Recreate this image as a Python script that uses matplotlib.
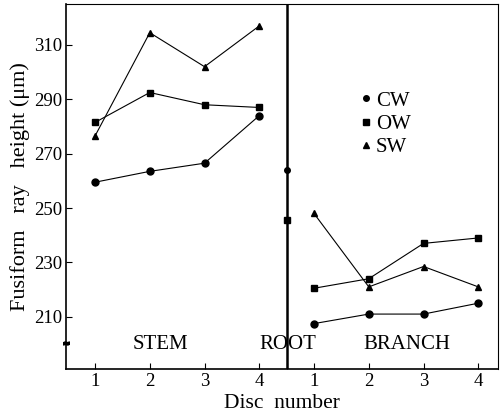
import matplotlib.pyplot as plt
from matplotlib.lines import Line2D

plt.rcParams['font.family'] = ['Liberation Serif', 'DejaVu Serif']

# disc positions: stem 1-4, root line at 4.5, branch 1-4 drawn at 5-8
stem_x = [1, 2, 3, 4]
branch_x = [5, 6, 7, 8]
root_x = 4.5
tick_labels = ['1', '2', '3', '4', '1', '2', '3', '4']

stem_cw = [259.5, 263.5, 266.5, 284]
stem_ow = [281.5, 292.5, 288, 287]
stem_sw = [276.5, 314.5, 302, 317]

branch_cw = [207.5, 211, 211, 215]
branch_ow = [220.5, 224, 237, 239]
branch_sw = [248, 221, 228.5, 221]

root_vals = [264, 245.5]

fig = plt.figure(figsize=(5, 4.16), dpi=100)
ax = fig.add_axes([0.132, 0.113, 0.864, 0.877])

ms = 5
for xs, ys, m in [(stem_x, stem_cw, 'o'), (stem_x, stem_ow, 's'), (stem_x, stem_sw, '^'),
                  (branch_x, branch_cw, 'o'), (branch_x, branch_ow, 's'), (branch_x, branch_sw, '^')]:
    ax.plot(xs, ys, color='black', lw=0.8, marker=m, ms=ms)

ax.axvline(root_x, color='black', lw=1.8)
ax.plot([root_x], [root_vals[0]], 'o', color='black', ms=4)
ax.plot([root_x], [root_vals[1]], 's', color='black', ms=4.5)

ax.set_xlim(0.47, 8.36)
ax.set_ylim(190.8, 325)
ax.set_xticks(stem_x + [root_x] + branch_x)
ax.set_xticklabels(tick_labels[:4] + [''] + tick_labels[4:])
ax.set_yticks([210, 230, 250, 270, 290, 310])
ax.tick_params(direction='in', length=4, width=0.8, labelsize=13.5, pad=3)

for s in ax.spines.values():
    s.set_linewidth(0.8)
ax.spines['left'].set_linewidth(1.2)
ax.spines['bottom'].set_linewidth(1.2)

# axis break mark
ax.plot([0.47], [200.3], marker='$\\approx$', ms=4, color='black', clip_on=False)

ax.text(2.2, 199.8, 'STEM', fontsize=15, ha='center', va='center')
ax.text(4.52, 199.8, 'ROOT', fontsize=15, ha='center', va='center')
ax.text(6.7, 199.8, 'BRANCH', fontsize=15, ha='center', va='center')

handles = [Line2D([], [], ls='none', marker='o', color='black', ms=4),
           Line2D([], [], ls='none', marker='s', color='black', ms=4),
           Line2D([], [], ls='none', marker='^', color='black', ms=4)]
ax.legend(handles, ['CW', 'OW', 'SW'], frameon=False, fontsize=15,
          loc='upper left', bbox_to_anchor=(0.655, 0.79),
          handlelength=0.6, handletextpad=0.2, labelspacing=0.18, borderpad=0)

ax.set_ylabel('Fusiform   ray   height (μm)', fontsize=16, labelpad=3)
ax.set_xlabel('Disc  number', fontsize=15.5, labelpad=3)

fig.savefig('out.png', dpi=100)
